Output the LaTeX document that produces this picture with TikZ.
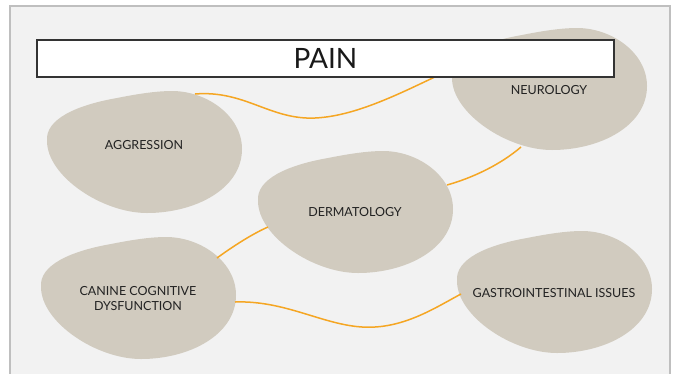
\documentclass[tikz,border=0pt]{standalone}
\usepackage{fontspec}
\setmainfont{Lato}
\definecolor{slidebg}{HTML}{F2F2F2}
\definecolor{slideedge}{HTML}{BFBFBF}
\definecolor{blobc}{HTML}{D1CBBF}
\definecolor{linkc}{HTML}{F5A623}
\definecolor{txtc}{HTML}{222222}
\tikzset{
  blob/.pic={\fill[blobc] (0,50) .. controls (-2,28) and (30,14) .. (70,7)
      .. controls (95,2) and (112,0) .. (125,0)
      .. controls (160,0) and (195,25) .. (195,58)
      .. controls (195,98) and (148,122) .. (100,122)
      .. controls (55,122) and (0,85) .. (0,50) -- cycle;},
  lbl/.style={text=txtc, font=\fontsize{12.5}{15}\selectfont, align=center, inner sep=0pt},
  link/.style={draw=linkc, line width=1.5pt},
  titlebox/.style={draw=black!80, fill=white, line width=1.5pt, minimum width=577pt,
    minimum height=37pt, inner sep=0pt, text=black!90, font=\fontsize{28}{30}\selectfont}
}
\begin{document}
\begin{tikzpicture}[x=1pt,y=-1pt]
\useasboundingbox (0,0) rectangle (677,373);
\fill[white] (0,0) rectangle (677,373);
\fill[slidebg] (10,6) rectangle (670,380);
\draw[slideedge, line width=1.2pt] (10,380) -- (10,6) -- (670,6) -- (670,380);
% blobs
\pic at (452,28) {blob};
\pic at (47,91) {blob};
\pic at (258,151) {blob};
\pic at (41,237) {blob};
\pic at (457,231) {blob};
% connector end points
\coordinate (aggE) at (195,94);
\coordinate (neuW) at (452,69);
\coordinate (neuS) at (521,147);
\coordinate (derE) at (447,185);
\coordinate (derW) at (268,227);
\coordinate (ccdN) at (217,258);
\coordinate (ccdE) at (235,302);
\coordinate (gasW) at (461,294);
\draw[link] (aggE) .. controls (245,90) and (270,120) .. (315,118) .. controls (360,116) and (410,88) .. (neuW);
\draw[link] (neuS) .. controls (500,165) and (472,178) .. (derE);
\draw[link] (derW) .. controls (252,234) and (232,247) .. (ccdN);
\draw[link] (ccdE) .. controls (290,300) and (330,330) .. (375,327) .. controls (410,325) and (440,305) .. (gasW);
% labels
\node[lbl] (neu) at (549,90) {NEUROLOGY};
\node[lbl] (agg) at (144,145) {AGGRESSION};
\node[lbl] (der) at (355,212) {DERMATOLOGY};
\node[lbl] (ccd) at (138,299) {CANINE COGNITIVE\\DYSFUNCTION};
\node[lbl] (gas) at (554,293) {GASTROINTESTINAL ISSUES};
% title
\node[titlebox] (title) at (325.5,58.5) {PAIN};
\end{tikzpicture}
\end{document}
